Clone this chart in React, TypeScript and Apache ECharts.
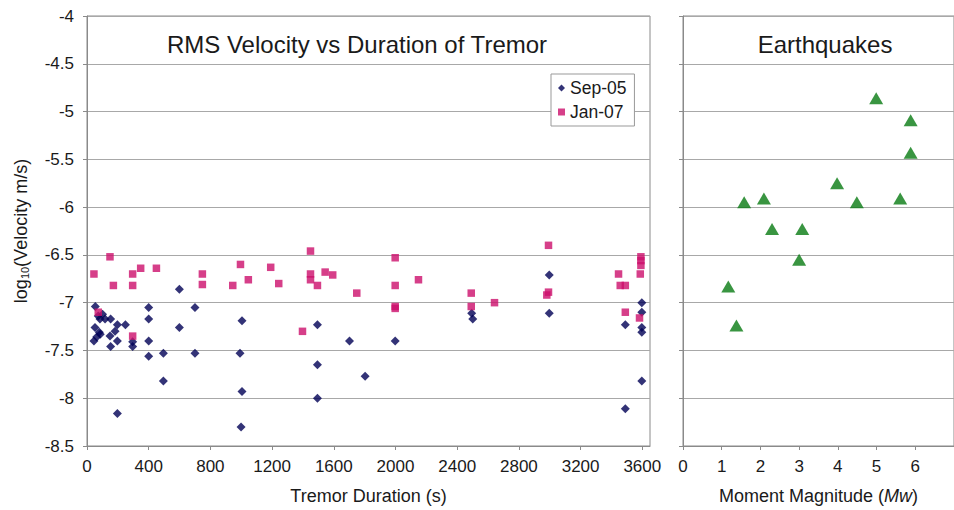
import React, { useEffect, useRef } from "react";
import * as echarts from "echarts";

const durationTicks = [0, 400, 800, 1200, 1600, 2000, 2400, 2800, 3200, 3600];
const magnitudeTicks = [0, 1, 2, 3, 4, 5, 6];

const sep05: [number, number][] = [
  [54, -7.04], [52, -7.26], [45, -7.4], [63, -7.36], [80, -7.31], [86, -7.33], [73, -7.14],
  [101, -7.12], [84, -7.17], [117, -7.17], [153, -7.17], [149, -7.35], [153, -7.46], [182, -7.3],
  [197, -7.23], [197, -7.4], [197, -8.16], [249, -7.23], [296, -7.41], [296, -7.46],
  [400, -7.05], [400, -7.17], [400, -7.4], [400, -7.56], [495, -7.53], [495, -7.82],
  [599, -6.86], [599, -7.26], [700, -7.05], [700, -7.53], [1005, -7.19], [992, -7.53],
  [1005, -7.93], [999, -8.3], [1494, -7.23], [1494, -7.65], [1494, -8.0], [1702, -7.4],
  [1803, -7.77], [1998, -7.4], [2494, -7.11], [2501, -7.17], [2997, -6.71], [2997, -7.11],
  [3490, -7.23], [3490, -8.11], [3597, -7.0], [3597, -7.1], [3597, -7.26], [3597, -7.31],
  [3597, -7.82],
];

const jan07: [number, number][] = [
  [45, -6.7], [149, -6.52], [171, -6.82], [73, -7.1], [296, -6.7], [296, -6.82], [348, -6.64],
  [450, -6.64], [296, -7.35], [748, -6.7], [748, -6.81], [945, -6.82], [995, -6.6],
  [1046, -6.76], [1191, -6.63], [1243, -6.8], [1397, -7.3], [1449, -6.46], [1449, -6.7],
  [1449, -6.76], [1494, -6.82], [1544, -6.68], [1593, -6.71], [1749, -6.9], [1998, -6.53],
  [1998, -6.82], [1998, -7.04], [1998, -7.06], [2149, -6.76], [2491, -6.9], [2491, -7.04],
  [2642, -7.0], [2992, -6.4], [2992, -6.89], [2981, -6.92], [3446, -6.7], [3457, -6.82],
  [3490, -6.82], [3490, -7.1], [3591, -6.52], [3591, -6.56], [3591, -6.61], [3587, -6.7],
  [3582, -7.16],
];

const earthquakes: [number, number][] = [
  [4.99, -4.86], [5.88, -5.09], [5.88, -5.43], [3.98, -5.75], [1.58, -5.95], [2.09, -5.91],
  [4.49, -5.95], [5.61, -5.91], [2.3, -6.23], [3.08, -6.23], [3.0, -6.55], [1.17, -6.83],
  [1.38, -7.24],
];

const FONT = "'Liberation Sans', Arial, sans-serif";
const AXIS = "#8a8a8a";
const GRIDC = "#a8a8a8";
const TXT = "#1a1a1a";

export default function App() {
  const ref = useRef<HTMLDivElement>(null);
  useEffect(() => {
    document.body.style.margin = "0";
    if (!ref.current) return;
    const chart = echarts.init(ref.current, undefined, { renderer: "svg" });
    const yAxisBase = {
      type: "value",
      min: -8.5,
      max: -4,
      interval: 0.5,
      axisLine: { show: true, lineStyle: { color: AXIS } },
      axisTick: { show: true, length: 4, lineStyle: { color: AXIS } },
      splitLine: { show: true, lineStyle: { color: GRIDC, width: 1 } },
    };
    chart.setOption({
      animation: false,
      backgroundColor: "#ffffff",
      textStyle: { fontFamily: FONT },
      title: [
        {
          text: "RMS Velocity vs Duration of Tremor",
          left: 352,
          top: 27,
          textAlign: "center",
          textStyle: { fontFamily: FONT, fontSize: 24, fontWeight: "normal", color: TXT },
        },
        {
          text: "Earthquakes",
          left: 820,
          top: 27,
          textAlign: "center",
          textStyle: { fontFamily: FONT, fontSize: 24, fontWeight: "normal", color: TXT },
        },
      ],
      legend: {
        data: [
          { name: "Sep-05", icon: "diamond" },
          { name: "Jan-07", icon: "rect" },
        ],
        orient: "vertical",
        left: 551,
        top: 74,
        padding: [5, 8, 5, 7],
        itemGap: 6,
        itemWidth: 7,
        itemHeight: 7,
        backgroundColor: "#ffffff",
        borderColor: "#999999",
        borderWidth: 1,
        textStyle: { fontFamily: FONT, fontSize: 17.5, color: TXT, padding: [0, 0, 0, 0] },
      },
      grid: [
        { left: 87, top: 16, width: 563, height: 431, show: true, borderColor: AXIS, borderWidth: 1, backgroundColor: "transparent" },
        { left: 683, top: 16, width: 277, height: 431, show: true, borderColor: AXIS, borderWidth: 1, backgroundColor: "transparent" },
      ],
      xAxis: [
        {
          type: "value",
          gridIndex: 0,
          min: 0,
          max: 3650,
          interval: 400,
          name: "Tremor Duration (s)",
          nameLocation: "middle",
          nameGap: 41,
          nameTextStyle: { fontFamily: FONT, fontSize: 18, color: TXT },
          axisLine: { show: true, onZero: false, lineStyle: { color: AXIS } },
          axisTick: { show: true, length: 4, customValues: durationTicks, lineStyle: { color: AXIS } },
          axisLabel: {
            customValues: durationTicks,
            formatter: (v: number) => String(v),
            fontFamily: FONT,
            fontSize: 17,
            color: TXT,
            margin: 12,
          },
          splitLine: { show: false },
        },
        {
          type: "value",
          gridIndex: 1,
          min: 0,
          max: 7,
          interval: 1,
          name: "{a|Moment Magnitude (}{b|Mw}{a|)}",
          nameLocation: "middle",
          nameGap: 41,
          nameTextStyle: {
            fontFamily: FONT,
            fontSize: 18,
            color: TXT,
            rich: {
              a: { fontFamily: FONT, fontSize: 18, color: TXT },
              b: { fontFamily: FONT, fontSize: 18, color: TXT, fontStyle: "italic" },
            },
          },
          axisLine: { show: true, onZero: false, lineStyle: { color: AXIS } },
          axisTick: { show: true, length: 4, customValues: magnitudeTicks, lineStyle: { color: AXIS } },
          axisLabel: {
            customValues: magnitudeTicks,
            formatter: (v: number) => String(v),
            fontFamily: FONT,
            fontSize: 17,
            color: TXT,
            margin: 12,
          },
          splitLine: { show: false },
        },
      ],
      yAxis: [
        {
          ...yAxisBase,
          gridIndex: 0,
          name: "{a|log}{b|10}{a|(Velocity m/s)}",
          nameLocation: "middle",
          nameGap: 57,
          nameTextStyle: {
            fontFamily: FONT,
            fontSize: 18,
            color: TXT,
            rich: {
              a: { fontFamily: FONT, fontSize: 18, color: TXT },
              b: { fontFamily: FONT, fontSize: 11, color: TXT, verticalAlign: "bottom", padding: [7, 0, 0, 0] },
            },
          },
          axisLabel: { fontFamily: FONT, fontSize: 17, color: TXT, margin: 13 },
        },
        {
          ...yAxisBase,
          gridIndex: 1,
          axisLabel: { show: false },
        },
      ],
      series: [
        {
          name: "Sep-05",
          type: "scatter",
          xAxisIndex: 0,
          yAxisIndex: 0,
          data: sep05,
          symbol: "diamond",
          symbolSize: 9,
          itemStyle: { color: "#000055" },
          z: 2,
        },
        {
          name: "Jan-07",
          type: "scatter",
          xAxisIndex: 0,
          yAxisIndex: 0,
          data: jan07,
          symbol: "rect",
          symbolSize: 7.5,
          itemStyle: { color: "#cc0f6b" },
          z: 3,
        },
        {
          name: "Earthquakes",
          type: "scatter",
          xAxisIndex: 1,
          yAxisIndex: 1,
          data: earthquakes,
          symbol: "triangle",
          symbolSize: [14, 12],
          itemStyle: { color: "#077a12" },
          z: 2,
        },
      ],
    });
    return () => chart.dispose();
  }, []);
  return <div ref={ref} style={{ width: 954, height: 510 }} />;
}
